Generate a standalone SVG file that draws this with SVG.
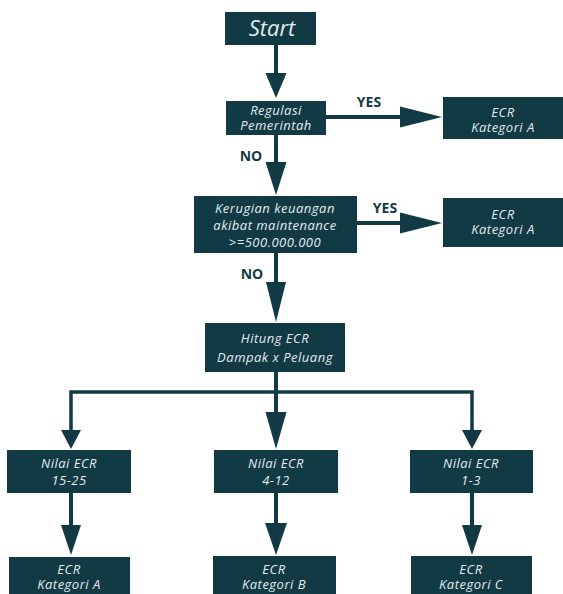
<svg xmlns="http://www.w3.org/2000/svg" width="563" height="594" viewBox="0 0 563 594">
<style>
.box{fill:#113a45;}
.t{font-family:"Open Sans","Liberation Sans",sans-serif;font-style:italic;font-size:13px;letter-spacing:0.5px;fill:#e4ebed;text-anchor:middle;}
.big{font-size:22px;letter-spacing:0;}
.lbl{font-family:"Open Sans","Liberation Sans",sans-serif;font-weight:bold;font-size:14px;fill:#113a45;text-anchor:middle;}
.ln{stroke:#113a45;stroke-width:4;fill:none;}
.thin{stroke:#113a45;stroke-width:3.5;fill:none;}
.ah{fill:#113a45;}
</style>
<rect width="563" height="594" fill="#ffffff"/>
<g id="connectors">
  <line class="ln" x1="276" y1="45" x2="276" y2="75"/>
  <polygon class="ah" points="265.5,73 286.5,73 276,98"/>
  <line class="ln" x1="326" y1="117" x2="402" y2="117"/>
  <polygon class="ah" points="400,106.5 400,127.5 442,117"/>
  <text class="lbl" x="369" y="107">YES</text>
  <line class="ln" x1="276" y1="135" x2="276" y2="164"/>
  <polygon class="ah" points="265.5,162 286.5,162 276,195"/>
  <text class="lbl" x="251" y="161">NO</text>
  <line class="ln" x1="357" y1="223" x2="402" y2="223"/>
  <polygon class="ah" points="400,212.5 400,233.5 442,223"/>
  <text class="lbl" x="385" y="213">YES</text>
  <line class="ln" x1="276" y1="253" x2="276" y2="284"/>
  <polygon class="ah" points="266,282 286,282 276,322"/>
  <text class="lbl" x="252" y="279">NO</text>
  <line class="ln" x1="276" y1="372" x2="276" y2="414"/>
  <polyline class="thin" points="71,432 71,392 472,392 472,432"/>
  <polygon class="ah" points="265.5,412 286.5,412 276,449"/>
  <polygon class="ah" points="61,430 81,430 71,449"/>
  <polygon class="ah" points="462,430 482,430 472,449"/>
  <line class="ln" x1="71" y1="493" x2="71" y2="527"/>
  <polygon class="ah" points="61,525 81,525 71,555"/>
  <line class="ln" x1="276" y1="493" x2="276" y2="525"/>
  <polygon class="ah" points="265,523 287,523 276,555"/>
  <line class="ln" x1="472" y1="493" x2="472" y2="527"/>
  <polygon class="ah" points="462,525 482,525 472,555"/>
</g>
<g id="start">
  <rect class="box" x="225" y="12" width="91" height="33"/>
  <text class="t big" x="272" y="36">Start</text>
</g>
<g id="regulasi">
  <rect class="box" x="226" y="101" width="100" height="34"/>
  <text class="t" x="276" y="115">Regulasi</text>
  <text class="t" x="276" y="130">Pemerintah</text>
</g>
<g id="ecr-a1">
  <rect class="box" x="443" y="97" width="120" height="42"/>
  <text class="t" x="503" y="117">ECR</text>
  <text class="t" x="503" y="132">Kategori A</text>
</g>
<g id="kerugian">
  <rect class="box" x="194" y="196" width="163" height="57"/>
  <text class="t" x="275" y="213">Kerugian keuangan</text>
  <text class="t" x="275" y="230">akibat maintenance</text>
  <text class="t" x="275" y="247">&gt;=500.000.000</text>
</g>
<g id="ecr-a2">
  <rect class="box" x="443" y="198" width="120" height="49"/>
  <text class="t" x="503" y="219">ECR</text>
  <text class="t" x="503" y="234">Kategori A</text>
</g>
<g id="hitung">
  <rect class="box" x="205" y="323" width="140" height="49"/>
  <text class="t" x="275" y="343">Hitung ECR</text>
  <text class="t" x="275" y="362">Dampak x Peluang</text>
</g>
<g id="nilai-15-25">
  <rect class="box" x="7" y="450" width="124" height="43"/>
  <text class="t" x="69" y="468">Nilai ECR</text>
  <text class="t" x="69" y="485">15-25</text>
</g>
<g id="nilai-4-12">
  <rect class="box" x="214" y="450" width="124" height="43"/>
  <text class="t" x="276" y="468">Nilai ECR</text>
  <text class="t" x="276" y="485">4-12</text>
</g>
<g id="nilai-1-3">
  <rect class="box" x="410" y="450" width="123" height="43"/>
  <text class="t" x="471" y="468">Nilai ECR</text>
  <text class="t" x="471" y="485">1-3</text>
</g>
<g id="ecr-a3">
  <rect class="box" x="9" y="557" width="121" height="40"/>
  <text class="t" x="69" y="574">ECR</text>
  <text class="t" x="69" y="589">Kategori A</text>
</g>
<g id="ecr-b">
  <rect class="box" x="213" y="556" width="123" height="40"/>
  <text class="t" x="274" y="574">ECR</text>
  <text class="t" x="274" y="589">Kategori B</text>
</g>
<g id="ecr-c">
  <rect class="box" x="411" y="556" width="121" height="40"/>
  <text class="t" x="471" y="574">ECR</text>
  <text class="t" x="471" y="589">Kategori C</text>
</g>
</svg>
